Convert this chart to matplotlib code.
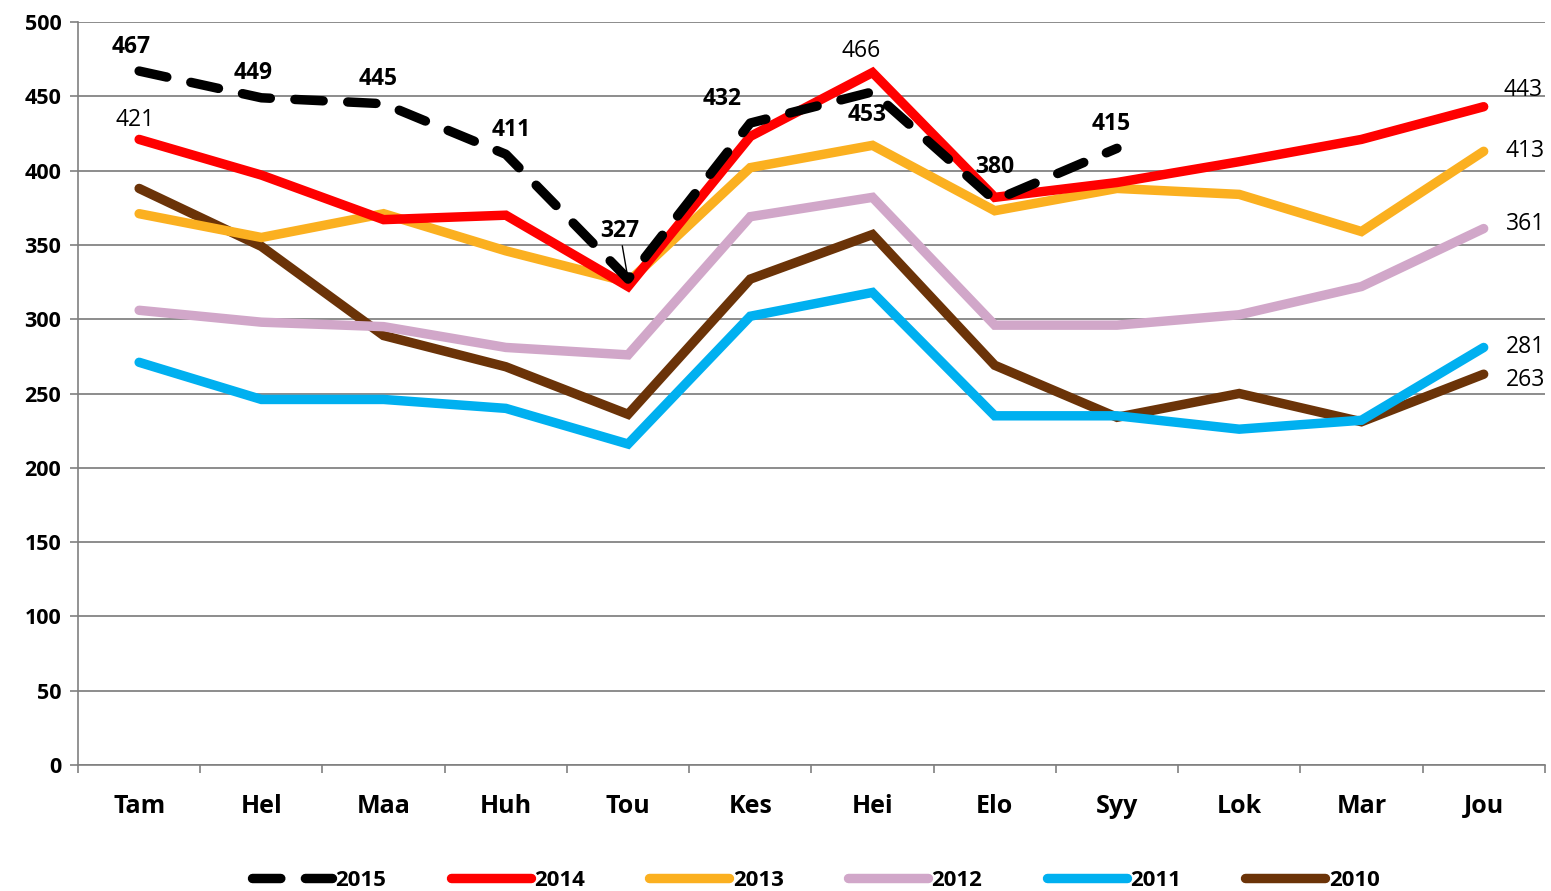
import numpy as np
import matplotlib.pyplot as plt

plt.rcParams['font.family'] = ['Open Sans', 'DejaVu Sans']

months = ["Tam", "Hel", "Maa", "Huh", "Tou", "Kes", "Hei", "Elo", "Syy", "Lok", "Mar", "Jou"]

y2015 = [467, 449, 445, 411, 327, 432, 453, 380, 415, None, None, None]
y2014 = [421, 397, 367, 370, 322, 423, 466, 382, 392, 406, 421, 443]
y2013 = [371, 355, 371, 346, 325, 402, 417, 373, 388, 384, 359, 413]
y2012 = [306, 298, 295, 281, 276, 369, 382, 296, 296, 303, 322, 361]
y2011 = [271, 246, 246, 240, 216, 302, 318, 235, 235, 226, 232, 281]
y2010 = [388, 349, 289, 268, 236, 327, 357, 269, 234, 250, 231, 263]

fig = plt.figure(figsize=(15.51, 8.91), dpi=100)
ax = fig.add_axes([0.0503, 0.1414, 0.9457, 0.8339])

x = np.arange(len(months))
lw = 6.8

def clean(vals):
    return np.array([np.nan if v is None else v for v in vals], dtype=float)

# older years first so 2015 sits on top
ax.plot(x, y2010, color="#6b3308", lw=lw, solid_capstyle='round', solid_joinstyle='miter', label="2010", zorder=3)
ax.plot(x, y2011, color="#00b0f0", lw=lw, solid_capstyle='round', solid_joinstyle='miter', label="2011", zorder=3)
ax.plot(x, y2012, color="#d1a7c9", lw=lw, solid_capstyle='round', solid_joinstyle='miter', label="2012", zorder=3)
ax.plot(x, y2013, color="#fbb020", lw=lw, solid_capstyle='round', solid_joinstyle='miter', label="2013", zorder=3)
ax.plot(x, y2014, color="#ff0000", lw=lw, solid_capstyle='round', solid_joinstyle='miter', label="2014", zorder=4)
ax.plot(x, clean(y2015), color="black", lw=lw, dashes=(3.0, 2.6), dash_capstyle='round', label="2015", zorder=5)

# labels 2015 (bold)
lab_fs = 16.5
offs2015 = [(-6, 9), (-6, 9), (-4, 9), (4, 9), (-6, 26), (-20, 9), (-4, -25), (0, 15), (-4, 9)]
for i, (dx, dy) in enumerate(offs2015):
    v = y2015[i]
    if i == 4:
        ax.annotate(str(v), xy=(x[i], v), xytext=(dx, dy), textcoords='offset points',
                    ha='center', va='bottom', fontsize=lab_fs, fontweight='bold',
                    arrowprops=dict(arrowstyle='-', color='black', lw=1, shrinkA=0, shrinkB=0), zorder=6)
    else:
        ax.annotate(str(v), xy=(x[i], v), xytext=(dx, dy), textcoords='offset points',
                    ha='center', va='bottom', fontsize=lab_fs, fontweight='bold', zorder=6)

# 2014 labels
ax.annotate(str(y2014[0]), xy=(0, y2014[0]), xytext=(-3, 5), textcoords='offset points',
            ha='center', va='bottom', fontsize=lab_fs)
ax.annotate(str(y2014[6]), xy=(6, y2014[6]), xytext=(-8, 7), textcoords='offset points',
            ha='center', va='bottom', fontsize=lab_fs)

# end labels
ends = [(y2014[-1], 14, 12), (y2013[-1], 16, 0), (y2012[-1], 16, 3), (y2011[-1], 16, 0), (y2010[-1], 16, -4)]
for v, dx, dy in ends:
    ax.annotate(str(v), xy=(11, v), xytext=(dx, dy), textcoords='offset points',
                ha='left', va='center', fontsize=lab_fs)

ax.set_ylim(0, 500)
ax.set_xlim(-0.5, 11.5)
ax.set_yticks(np.arange(0, 501, 50))
ax.set_xticks(x)
ax.set_xticklabels(months, fontsize=18, fontweight='bold')
ax.set_xticks(np.arange(-0.5, 12, 1), minor=True)
ax.tick_params(axis='x', which='major', length=0, pad=21)
ax.tick_params(axis='x', which='minor', length=6, color='#808080', width=1.2)
ax.tick_params(axis='y', length=6, color='#808080', width=1.2, pad=6)
for t in ax.get_yticklabels():
    t.set_fontweight('bold')
    t.set_fontsize(15.5)

ax.grid(axis='y', color='#8c8c8c', lw=1.4)
ax.set_axisbelow(True)
for s in ['top', 'right']:
    ax.spines[s].set_visible(False)
ax.spines['left'].set_color('#808080')
ax.spines['bottom'].set_color('#808080')
ax.spines['left'].set_linewidth(1.2)
ax.spines['bottom'].set_linewidth(1.2)

handles, labels = ax.get_legend_handles_labels()
order = [5, 4, 3, 2, 1, 0]
leg = fig.legend([handles[i] for i in order], [labels[i] for i in order],
                 loc='center', bbox_to_anchor=(0.526, 0.012), ncol=6, frameon=False,
                 handlelength=3.6, handletextpad=0.15, columnspacing=2.9,
                 prop={'weight': 'bold', 'size': 16})

fig.savefig("out.png", dpi=100)
